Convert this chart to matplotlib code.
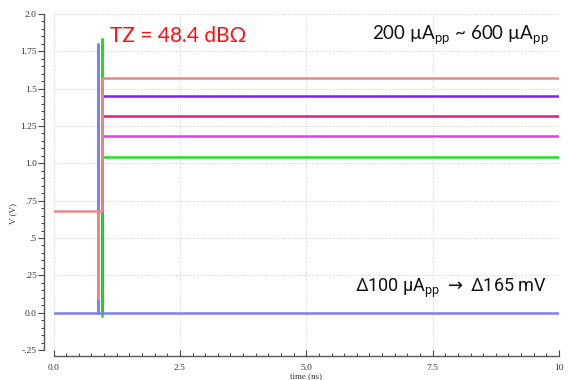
import matplotlib
matplotlib.use("Agg")
import matplotlib.pyplot as plt

# Step-response traces (time in ns, voltage in V)
t_green = [0.965, 0.965, 0.965, 0.965, 10.0]
v_green = [-0.02, 1.83, 1.043, 1.043, 1.043]

t_magenta = [0.965, 0.965, 10.0]
v_magenta = [0.0, 1.186, 1.186]

t_deeppink = [0.965, 0.965, 10.0]
v_deeppink = [0.0, 1.320, 1.320]

t_purple = [0.965, 0.965, 10.0]
v_purple = [0.0, 1.451, 1.451]

t_blue = [0.0, 0.886, 0.886, 0.886, 10.0]
v_blue = [0.0, 0.0, 1.80, 0.0, 0.0]

t_salmon = [0.0, 0.886, 0.886, 0.886, 0.96, 0.96, 10.0]
v_salmon = [0.68, 0.68, 0.10, 0.68, 0.68, 1.574, 1.574]

y_ticks = [-0.25, 0.0, 0.25, 0.5, 0.75, 1.0, 1.25, 1.5, 1.75, 2.0]
y_labels = ["-.25", "0.0", ".25", ".5", ".75", "1.0", "1.25", "1.5", "1.75", "2.0"]
x_ticks = [0.0, 2.5, 5.0, 7.5, 10.0]
x_labels = ["0.0", "2.5", "5.0", "7.5", "10"]

fig = plt.figure(figsize=(5.7, 3.8), dpi=100)
ax = fig.add_axes([53.5 / 570, 30 / 380, (559 - 53.5) / 570, (350 - 14) / 380])

lw = 1.8
ax.plot(t_magenta, v_magenta, color="#e040e0", lw=lw)
ax.plot(t_deeppink, v_deeppink, color="#e0207f", lw=lw)
ax.plot(t_purple, v_purple, color="#8020f0", lw=lw)
ax.plot(t_green, v_green, color="#22dd22", lw=lw)
ax.plot(t_blue, v_blue, color="#8080ee", lw=lw)
ax.plot(t_salmon, v_salmon, color="#e88888", lw=lw)

ax.set_xlim(0, 10)
ax.set_ylim(-0.25, 2.0)
ax.set_xticks(x_ticks)
ax.set_xticklabels(x_labels)
ax.set_yticks(y_ticks)
ax.set_yticklabels(y_labels)
ax.set_xticks([i * 0.25 for i in range(41)], minor=True)
ax.set_yticks([-0.25 + i * 0.05 for i in range(46)], minor=True)

ax.grid(True, which="major", color="#d0d0d0", linestyle=(0, (1, 1.5)), linewidth=0.7)
ax.set_axisbelow(True)

for s in ("top", "right"):
    ax.spines[s].set_visible(False)
ax.spines["left"].set_position(("outward", 7))
ax.spines["bottom"].set_position(("outward", 4))
for s in ("left", "bottom"):
    ax.spines[s].set_color("#555555")
    ax.spines[s].set_linewidth(1.0)

ax.tick_params(axis="y", which="major", direction="out", length=4, width=0.8,
               color="#444444", labelsize=6.8, pad=1)
ax.tick_params(axis="y", which="minor", direction="out", length=2.5, width=0.7,
               color="#444444")
ax.tick_params(axis="x", which="major", direction="in", length=4, width=0.8,
               color="#444444", labelsize=6.8, pad=6)
ax.tick_params(axis="x", which="minor", direction="in", length=2.5, width=0.7,
               color="#444444")
for lab in ax.get_xticklabels() + ax.get_yticklabels():
    lab.set_fontfamily("Liberation Serif")
    lab.set_color("#333333")

ax.set_ylabel("V (V)", fontsize=6.5, family="Liberation Serif", color="#333333")
ax.yaxis.set_label_coords(-0.072, 0.405)
ax.set_xlabel("time (ns)", fontsize=6.5, family="Liberation Serif", color="#333333", labelpad=0)

ax.text(1.12, 1.855, "TZ = 48.4 dB\u03a9", color="#ff1010", fontsize=15,
        family="Lato", va="center", ha="left")
ax.text(9.8, 1.86, r"200 µA$_{\mathregular{pp}}$ ~ 600 µA$_{\mathregular{pp}}$",
        color="#111111", fontsize=13.5, family="Lato", va="center", ha="right")
ax.text(9.75, 0.165, r"Δ100 µA$_{\mathregular{pp}}$ $\rightarrow$ Δ165 mV",
        color="#111111", fontsize=13, family="Roboto",
        va="center", ha="right")

fig.savefig("out.png", dpi=100)
